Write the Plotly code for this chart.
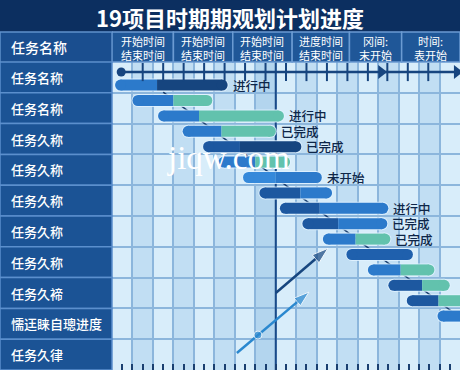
import plotly.graph_objects as go

# ---------------- data ----------------
title_text = "19项目时期期观划计划进度"
corner_label = "任务名称"
header_labels = ["开始时间<br>结束时间", "开始时间<br>结束时间", "开始时间<br>结束时间",
                 "进度时间<br>结束时间", "冈间:<br>末开始", "时间:<br>表开始"]
header_bounds = [0, 3, 5.9, 8.8, 11.6, 14.15, 17]
row_labels = ["任务名称", "任务名称", "任务久称", "任务久称", "任务久称", "任务久称",
              "任务久称", "任务久褅", "懦迋睐自璁进度", "任务久律"]

task_start = [0.15, 1.0, 2.25, 3.45, 4.45, 5.2, 6.4, 7.2, 8.2, 9.3, 10.3, 11.45, 12.5, 13.5, 14.4, 15.9]
task_split = [2.2, 3.0, 4.25, 5.35, 6.25, 7.0, 8.0, 9.2, 10.15, 11.05, 11.9, 14.7, 14.1, 15.15, 15.95, 17.7]
task_end = [5.65, 4.9, 8.4, 8.0, 9.25, 8.7, 10.25, 10.75, 13.5, 13.45, 13.6, 14.7, 15.75, 16.5, 17.5, 17.7]
task_status = ["进行中", "", "进行中", "已完成", "已完成", "", "未开始", "", "进行中",
               "已完成", "已完成", "", "", "", "", ""]

today = 8.0
timeline_start = 0.45
timeline_ticks = [1.5, 2.5, 3.5, 4.5, 5.5, 6.5, 7.5, 8.5, 9.5, 10.5, 11.5, 12.5, 13.45, 14.45, 15.45]
timeline_arrows = [13.15, 16.85]
dep_x = [2.5, 17.0]
dep_y = [0.45, 15.1]
arrow_a_x = [8.0, 10.55]
arrow_a_y = [13.5, 10.6]
arrow_b_x = [6.1, 7.13, 9.62]
arrow_b_y = [17.4, 16.23, 13.44]

# ---------------- style ----------------
W, H = 460, 370
X0PX, TOPPX = 112, 62
XMAX = 17
YR = [18.5, -1.5]
FONT = "Noto Sans CJK SC, Noto Sans, sans-serif"
MID, NAVY, DARK, TEAL, BRIGHT, DARK2 = "#2c7acb", "#16457f", "#1d58a0", "#62c2ad", "#3589da", "#1f60ad"
left_col = [MID, MID, MID, MID, DARK, MID, BRIGHT, DARK, DARK, DARK, MID, DARK2, MID, DARK, DARK, MID]
right_col = [NAVY, TEAL, TEAL, TEAL, NAVY, TEAL, MID, MID, MID, MID, TEAL, DARK2, TEAL, TEAL, TEAL, MID]
BAR_H = 11
px_per_x = (W - X0PX) / XMAX
r = BAR_H / 2 / px_per_x

def py(p):  # pixel y -> paper
    return 1 - p / H

fig = go.Figure()

fig.add_trace(go.Scatter(x=dep_x, y=dep_y, mode="lines",
                         line=dict(color="#1b3f70", width=1.5), hoverinfo="skip"))
fig.add_trace(go.Scatter(x=[today, today], y=[YR[1], YR[0]], mode="lines",
                         line=dict(color="#1a4a88", width=2), hoverinfo="skip"))

for i in range(len(task_start)):
    s, m, e = task_start[i], task_split[i], task_end[i]
    fig.add_trace(go.Scatter(x=[s + r, e - r], y=[i, i], mode="lines+markers",
                             line=dict(color="rgba(225,242,255,0.85)", width=BAR_H + 2),
                             marker=dict(size=BAR_H + 2, color="rgba(225,242,255,0.85)"),
                             hoverinfo="skip"))
    if m >= e:
        fig.add_trace(go.Scatter(x=[s + r, e - r], y=[i, i], mode="lines+markers",
                                 line=dict(color=left_col[i], width=BAR_H),
                                 marker=dict(size=BAR_H, color=left_col[i]), hoverinfo="skip"))
    else:
        fig.add_trace(go.Scatter(x=[s + r, m], y=[i, i], mode="lines",
                                 line=dict(color=left_col[i], width=BAR_H), hoverinfo="skip"))
        fig.add_trace(go.Scatter(x=[m, e - r], y=[i, i], mode="lines",
                                 line=dict(color=right_col[i], width=BAR_H), hoverinfo="skip"))
        fig.add_trace(go.Scatter(x=[s + r, e - r], y=[i, i], mode="markers",
                                 marker=dict(size=BAR_H, color=[left_col[i], right_col[i]]),
                                 hoverinfo="skip"))

tl_y = -0.85
fig.add_trace(go.Scatter(x=[timeline_start, XMAX], y=[tl_y, tl_y], mode="lines",
                         line=dict(color="#17457f", width=2.5), hoverinfo="skip"))
fig.add_trace(go.Scatter(x=timeline_ticks, y=[tl_y] * len(timeline_ticks), mode="markers",
                         marker=dict(symbol="line-ns", size=13, line=dict(color="#17457f", width=2)),
                         hoverinfo="skip"))
fig.add_trace(go.Scatter(x=timeline_arrows, y=[tl_y] * len(timeline_arrows), mode="markers",
                         marker=dict(symbol="triangle-right", size=12, color="#17457f"),
                         hoverinfo="skip"))
fig.add_trace(go.Scatter(x=[timeline_start], y=[tl_y], mode="markers",
                         marker=dict(symbol="circle", size=9, color="#17457f"), hoverinfo="skip"))

fig.add_trace(go.Scatter(x=arrow_a_x, y=arrow_a_y, mode="lines+markers",
                         line=dict(color="#17467f", width=2.5),
                         marker=dict(symbol=["circle", "arrow"], size=[7, 17], angleref="previous",
                                     color="#17467f"), hoverinfo="skip"))
fig.add_trace(go.Scatter(x=arrow_b_x, y=arrow_b_y, mode="lines+markers",
                         line=dict(color="#2a88cf", width=2.5),
                         marker=dict(symbol=["circle", "circle", "arrow"], size=[6, 8, 16],
                                     angleref="previous", color="#2a88cf"), hoverinfo="skip"))

for i, t in enumerate(task_status):
    if t:
        fig.add_annotation(x=task_end[i], y=i, text=t, showarrow=False, xanchor="left",
                           yanchor="middle", xshift=4, height=15, borderpad=0,
                           font=dict(size=12.5, color="#0e2648", family=FONT, weight=500))

shapes = []
col_fills = ["#d8edfa", "#c1def3"]
for c in range(XMAX):
    fill = col_fills[c % 2]
    if c == 7:
        fill = "#b3d5ee"
    shapes.append(dict(type="rect", xref="x", yref="paper", x0=c, x1=c + 1, y0=0, y1=py(TOPPX),
                       fillcolor=fill, line=dict(width=0), layer="below"))

shapes.append(dict(type="rect", xref="paper", yref="paper", x0=0, x1=1, y0=py(32), y1=1,
                   fillcolor="#0c2f60", line=dict(width=0)))
shapes.append(dict(type="rect", xref="paper", yref="paper", x0=0, x1=X0PX / W, y0=py(TOPPX), y1=py(32),
                   fillcolor="#1a4e8f", line=dict(color="#5f91cc", width=1.5)))
for k in range(len(header_labels)):
    shapes.append(dict(type="rect", xref="x", yref="paper", x0=header_bounds[k], x1=header_bounds[k + 1],
                       y0=py(TOPPX), y1=py(32), fillcolor="#1f5798",
                       line=dict(color="#6b9bd2", width=1.5)))
    fig.add_annotation(x=(header_bounds[k] + header_bounds[k + 1]) / 2, xref="x", yref="paper",
                       y=py(48), text=header_labels[k], showarrow=False,
                       xanchor="center", yanchor="middle",
                       font=dict(size=11, color="white", family=FONT))
for k in range(len(row_labels)):
    shapes.append(dict(type="rect", xref="paper", yref="y", x0=0, x1=X0PX / W,
                       y0=-1.5 + 2 * k, y1=0.5 + 2 * k, fillcolor="#1b5395",
                       line=dict(color="#5b8fcd", width=1.5)))
    fig.add_annotation(xref="paper", x=9 / W, y=-0.5 + 2 * k, yref="y", text=row_labels[k],
                       showarrow=False, xanchor="left", yanchor="middle",
                       font=dict(size=13, color="white", family=FONT, weight=500))

fig.add_annotation(xref="paper", yref="paper", x=9 / W, y=py(47), text=corner_label,
                   showarrow=False, xanchor="left", yanchor="middle",
                   font=dict(size=14, color="white", family=FONT, weight=500))
fig.add_annotation(xref="paper", yref="paper", x=0.5, y=py(17), text="<b>" + title_text + "</b>",
                   showarrow=False, xanchor="center", yanchor="middle",
                   font=dict(size=22, color="white", family=FONT))
fig.add_annotation(xref="paper", yref="paper", x=228 / W, y=py(158), text="jiqw.com",
                   showarrow=False, xanchor="center", yanchor="middle",
                   font=dict(size=33, color="white", family="Liberation Serif, DejaVu Serif, serif"))

fig.update_layout(
    width=W, height=H, margin=dict(l=0, r=0, t=0, b=0),
    paper_bgcolor="#0c2f60", plot_bgcolor="#d3e9f7",
    showlegend=False, shapes=shapes,
    xaxis=dict(domain=[X0PX / W, 1], range=[0, XMAX], tick0=0, dtick=1, showgrid=True,
               gridcolor="#8cb6dc", gridwidth=1.5, zeroline=False, showticklabels=False,
               ticks="inside", ticklen=6, tickcolor="#1a3f70", tickwidth=1.5,
               showline=True, linecolor="#1a3f70", linewidth=2,
               minor=dict(dtick=0.5, ticks="inside", ticklen=6, tickcolor="#1a3f70", tickwidth=1.5, showgrid=False)),
    yaxis=dict(domain=[0, py(TOPPX)], range=YR, tick0=-1.5, dtick=2, showgrid=True,
               gridcolor="#8cb6dc", gridwidth=1.5, zeroline=False, showticklabels=False),
)

fig.write_html("out.html", config={"displayModeBar": False},
               post_script="document.body.style.margin='0';document.body.style.overflow='hidden';")
